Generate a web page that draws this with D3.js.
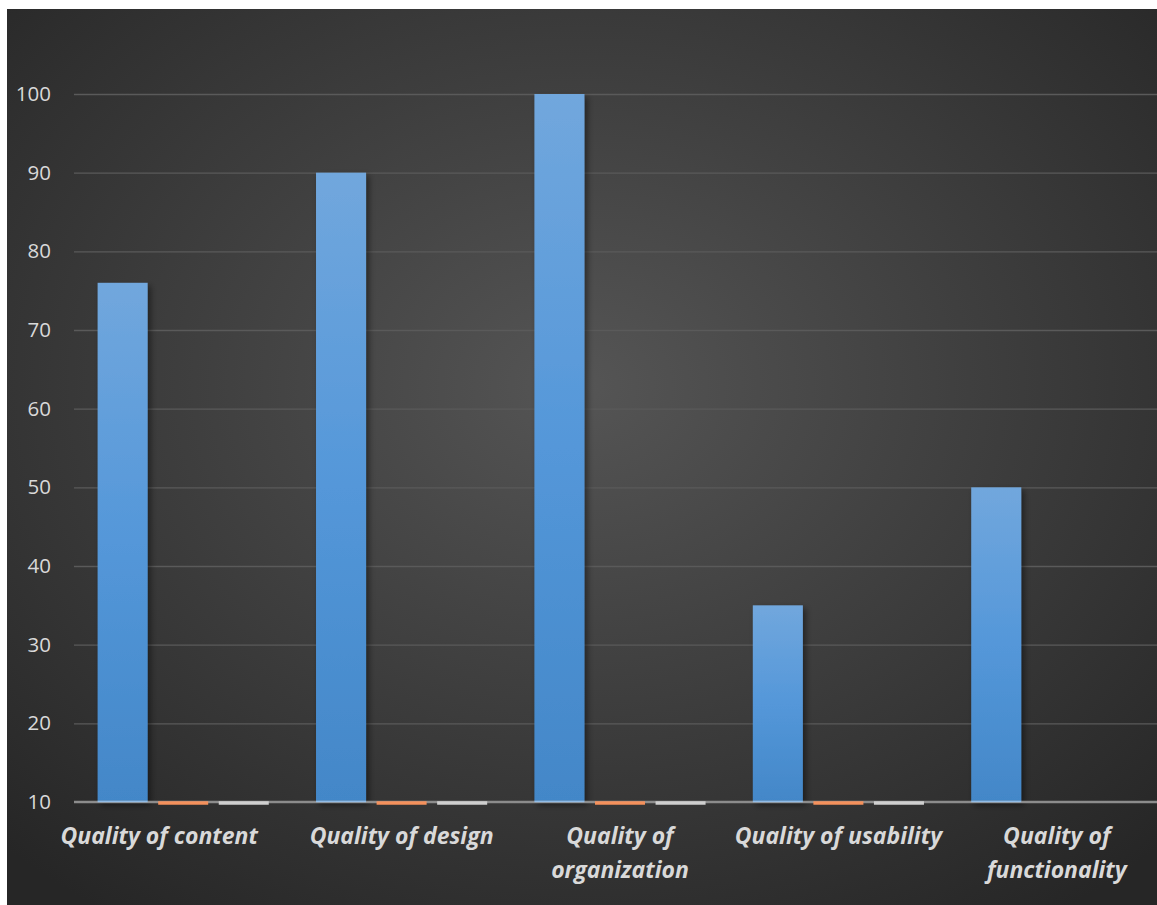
<!DOCTYPE html>
<html>
<head>
<meta charset="utf-8">
<script src="https://cdn.jsdelivr.net/npm/d3@7"></script>
<style>
  html, body { margin: 0; padding: 0; background: #ffffff; }
  svg { display: block; }
</style>
</head>
<body>
<div id="chart"></div>
<script>
// Survey ratings per quality dimension (three series, only the first is non-empty)
const categories = ["Quality of content", "Quality of design", "Quality of organization", "Quality of usability", "Quality of functionality"];
const seriesNames = ["Series 1", "Series 2", "Series 3"];
const series1 = [76, 90, 100, 35, 50];
const series2 = [10, 10, 10, 10, null];
const series3 = [10, 10, 10, 10, null];
const yTicks = [10, 20, 30, 40, 50, 60, 70, 80, 90, 100];

const seriesValues = [series1, series2, series3];
const seriesColors = ["url(#blueGrad)", "#f4915c", "#cfcfcf"];

const W = 1157, H = 905;
const svg = d3.select("#chart").append("svg").attr("width", W).attr("height", H);
const defs = svg.append("defs");

// Dark radial background
const bg = defs.append("radialGradient").attr("id", "bgGrad")
  .attr("cx", "50%").attr("cy", "42%").attr("r", "72%");
bg.append("stop").attr("offset", "0%").attr("stop-color", "#555555");
bg.append("stop").attr("offset", "100%").attr("stop-color", "#262626");

// Blue bar gradient (lighter at top)
const bg2 = defs.append("linearGradient").attr("id", "blueGrad")
  .attr("x1", 0).attr("y1", 0).attr("x2", 0).attr("y2", 1);
bg2.append("stop").attr("offset", "0%").attr("stop-color", "#71a7dd");
bg2.append("stop").attr("offset", "50%").attr("stop-color", "#5497d9");
bg2.append("stop").attr("offset", "100%").attr("stop-color", "#4387c8");

const shadow = defs.append("filter").attr("id", "barShadow")
  .attr("x", "-20%").attr("y", "-5%").attr("width", "150%").attr("height", "115%");
shadow.append("feDropShadow").attr("dx", 3).attr("dy", 3).attr("stdDeviation", 3)
  .attr("flood-color", "#000").attr("flood-opacity", 0.45);

svg.append("rect").attr("x", 7).attr("y", 9).attr("width", W - 7).attr("height", H - 9)
  .attr("fill", "url(#bgGrad)");

const plot = { left: 74, right: 1166, top: 94, bottom: 802 };

const y = d3.scaleLinear().domain([10, 100]).range([plot.bottom, plot.top]);
const x0 = d3.scaleBand().domain(categories).range([plot.left, plot.right]).padding(0);
const x1 = d3.scaleBand().domain(seriesNames).range([0, x0.bandwidth()])
  .paddingInner(0.174).paddingOuter(0.39);

const g = svg.append("g");

// Horizontal gridlines and value labels
const yAxis = d3.axisLeft(y).tickValues(yTicks).tickSize(-(plot.right - plot.left)).tickPadding(23);
const ya = g.append("g").attr("transform", `translate(${plot.left},0)`).call(yAxis);
ya.select(".domain").remove();
ya.selectAll(".tick line").attr("stroke", "#5a5a5a").attr("stroke-width", 1.3)
  .filter(d => d === 10).remove();
ya.selectAll(".tick text")
  .attr("fill", "#d9d9d9")
  .style("font-family", "'Open Sans', 'Noto Sans', sans-serif")
  .style("font-size", "20.5px");

// Bars
const barLayer = g.append("g");
const groups = barLayer.selectAll("g").data(categories).join("g")
  .attr("transform", d => `translate(${x0(d)},0)`);

groups.each(function(cat, ci) {
  const grp = d3.select(this);
  seriesNames.forEach((s, si) => {
    const v = seriesValues[si][ci];
    if (v == null || v <= 10) return;
    grp.append("rect")
      .attr("x", x1(s)).attr("width", x1.bandwidth())
      .attr("y", y(v)).attr("height", y(10) - y(v))
      .attr("fill", seriesColors[si])
      .attr("filter", "url(#barShadow)");
  });
});

// Axis baseline
g.append("line").attr("x1", plot.left).attr("x2", plot.right)
  .attr("y1", y(10)).attr("y2", y(10))
  .attr("stroke", "#8c8c8c").attr("stroke-width", 2.5);

// Bar feet and zero-height series drawn on top of the baseline
const footLayer = g.append("g");
categories.forEach((cat, ci) => {
  seriesNames.forEach((s, si) => {
    const v = seriesValues[si][ci];
    if (v == null) return;
    const x = x0(cat) + x1(s);
    if (v <= 10) {
      footLayer.append("line")
        .attr("x1", x).attr("x2", x + x1.bandwidth())
        .attr("y1", y(v) + 1).attr("y2", y(v) + 1)
        .attr("stroke", seriesColors[si]).attr("stroke-width", 3.5);
    } else {
      footLayer.append("line")
        .attr("x1", x).attr("x2", x + x1.bandwidth())
        .attr("y1", y(10) - 0.5).attr("y2", y(10) - 0.5)
        .attr("stroke", "#8fbbe6").attr("stroke-width", 1.5);
    }
  });
});

// Category labels, wrapped to the band width
const labels = g.append("g").selectAll("text").data(categories).join("text")
  .attr("x", (d, i) => x0(d) + x0.bandwidth() / 2 + (i === 0 ? -24 : 0))
  .attr("y", plot.bottom + 42)
  .attr("text-anchor", "middle")
  .attr("fill", "#d9d9d9")
  .style("font-family", "'Open Sans', 'Noto Sans', sans-serif")
  .style("font-size", "23px")
  .style("font-weight", "bold")
  .style("font-style", "italic");

labels.each(function(d) {
  const t = d3.select(this);
  const words = d.split(" ");
  const maxW = x0.bandwidth() - 2;
  let line = [];
  let tspan = t.append("tspan").attr("x", t.attr("x")).attr("dy", 0);
  words.forEach(w => {
    line.push(w);
    tspan.text(line.join(" "));
    if (tspan.node().getComputedTextLength() > maxW && line.length > 1) {
      line.pop();
      tspan.text(line.join(" "));
      line = [w];
      tspan = t.append("tspan").attr("x", t.attr("x")).attr("dy", 34).text(w);
    }
  });
});
</script>
</body>
</html>
